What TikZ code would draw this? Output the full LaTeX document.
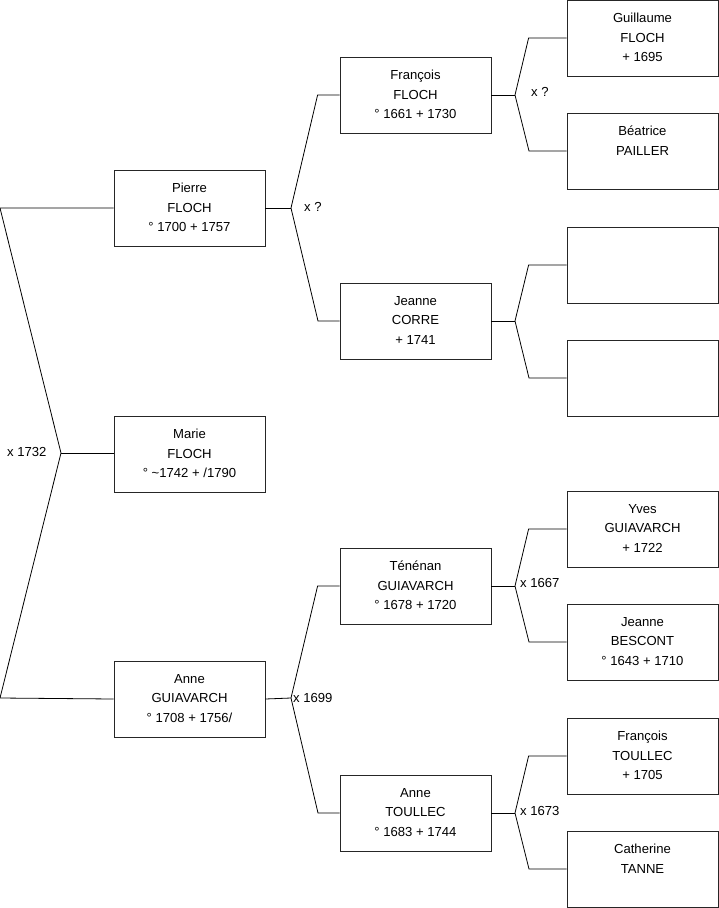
\documentclass[tikz,border=0pt]{standalone}
\usepackage{fontspec}
\setmainfont{Liberation Sans}
\begin{document}
\begin{tikzpicture}[x=1pt,y=-1pt,
  box/.style={draw=black!85, line width=0.8pt, minimum width=151pt, minimum height=76pt, inner sep=0pt},
  txt/.style={anchor=north, inner sep=0pt, align=center, font=\fontsize{13.1}{19.5}\selectfont, execute at begin node=\rule{0pt}{13.65pt}},
  lab/.style={anchor=west, inner sep=0pt, font=\fontsize{13.1}{19.5}\selectfont},
  link/.style={draw=black, line width=0.8pt}]
\useasboundingbox (0,0) rectangle (719,908);
% column 1
\node[box] (p1) at (189.5,208) {};
\node[box] (m1) at (189.5,454) {};
\node[box] (a1) at (189.5,699) {};
% column 2
\node[box] (fr) at (415.5,95) {};
\node[box] (jc) at (415.5,321) {};
\node[box] (te) at (415.5,586) {};
\node[box] (at) at (415.5,813) {};
% column 3
\node[box] (gu) at (642.5,38) {};
\node[box] (be) at (642.5,151) {};
\node[box] (e1) at (642.5,265) {};
\node[box] (e2) at (642.5,378) {};
\node[box] (yv) at (642.5,529) {};
\node[box] (jb) at (642.5,642) {};
\node[box] (ft) at (642.5,756) {};
\node[box] (ca) at (642.5,869) {};
% texts
\node[txt] (tp1) at ([yshift=-13.3pt]p1.north) {Pierre\\FLOCH\\° 1700 + 1757};
\node[txt] (tm1) at ([yshift=-13.3pt]m1.north) {Marie\\FLOCH\\° \textasciitilde1742 + /1790};
\node[txt] (ta1) at ([yshift=-13.3pt]a1.north) {Anne\\GUIAVARCH\\° 1708 + 1756/};
\node[txt] (tfr) at ([yshift=-13.3pt]fr.north) {François\\FLOCH\\° 1661 + 1730};
\node[txt] (tjc) at ([yshift=-13.3pt]jc.north) {Jeanne\\CORRE\\+ 1741};
\node[txt] (tte) at ([yshift=-13.3pt]te.north) {Ténénan\\GUIAVARCH\\° 1678 + 1720};
\node[txt] (tat) at ([yshift=-13.3pt]at.north) {Anne\\TOULLEC\\° 1683 + 1744};
\node[txt] (tgu) at ([yshift=-13.3pt]gu.north) {Guillaume\\FLOCH\\+ 1695};
\node[txt] (tbe) at ([yshift=-13.3pt]be.north) {Béatrice\\PAILLER};
\node[txt] (tyv) at ([yshift=-13.3pt]yv.north) {Yves\\GUIAVARCH\\+ 1722};
\node[txt] (tjb) at ([yshift=-13.3pt]jb.north) {Jeanne\\BESCONT\\° 1643 + 1710};
\node[txt] (tft) at ([yshift=-13.3pt]ft.north) {François\\TOULLEC\\+ 1705};
\node[txt] (tca) at ([yshift=-13.3pt]ca.north) {Catherine\\TANNE};
% root connector
\coordinate (r0) at (61,453);
\coordinate (r1) at (0,208);
\coordinate (r2) at (0,698);
\draw[link] (p1.west) -- (r1) -- (r0) -- (r2) -- (a1.west);
\draw[link] (r0) -- (m1.west |- r0);
\node[lab] (l0) at (7,452) {x 1732};
% Pierre
\coordinate (v1) at (291,208);
\draw[link] (p1.east) -- (v1);
\draw[link] (fr.west) -- ++(-22,0) -- (v1) -- (318,321) -- (jc.west);
\node[lab] (l1) at (304,207) {x ?};
% Anne
\coordinate (v2) at (291,698);
\draw[link] (a1.east) -- (v2);
\draw[link] (te.west) -- ++(-22,0) -- (v2) -- (318,813) -- (at.west);
\node[lab] (l2) at (293,698) {x 1699};
% François
\coordinate (v3) at (515,95);
\draw[link] (fr.east) -- (v3);
\draw[link] (gu.west) -- ++(-38,0) -- (v3) -- (529,151) -- (be.west);
\node[lab] (l3) at (531,92) {x ?};
% Jeanne CORRE
\coordinate (v4) at (515,321);
\draw[link] (jc.east) -- (v4);
\draw[link] (e1.west) -- ++(-38,0) -- (v4) -- (529,378) -- (e2.west);
% Ténénan
\coordinate (v5) at (515,586);
\draw[link] (te.east) -- (v5);
\draw[link] (yv.west) -- ++(-38,0) -- (v5) -- (529,642) -- (jb.west);
\node[lab] (l5) at (520,583) {x 1667};
% Anne TOULLEC
\coordinate (v6) at (515,813);
\draw[link] (at.east) -- (v6);
\draw[link] (ft.west) -- ++(-38,0) -- (v6) -- (529,869) -- (ca.west);
\node[lab] (l6) at (520,811) {x 1673};
\end{tikzpicture}
\end{document}
